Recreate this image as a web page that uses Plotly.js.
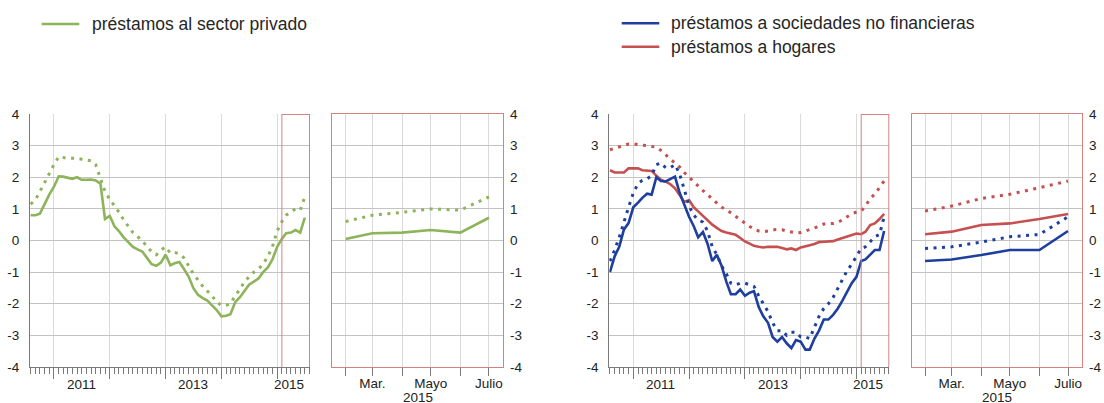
<!DOCTYPE html>
<html>
<head>
<meta charset="utf-8">
<script src="https://cdn.plot.ly/plotly-3.0.1.min.js"></script>
<style>html,body{margin:0;padding:0;background:#fff;}#chart{width:1104px;height:403px;}</style>
</head>
<body>
<div id="chart"></div>
<script>
// ---------- DATA ----------
const months = [
  '2010-08','2010-09','2010-10','2010-11','2010-12',
  '2011-01','2011-02','2011-03','2011-04','2011-05','2011-06','2011-07','2011-08','2011-09','2011-10','2011-11','2011-12',
  '2012-01','2012-02','2012-03','2012-04','2012-05','2012-06','2012-07','2012-08','2012-09','2012-10','2012-11','2012-12',
  '2013-01','2013-02','2013-03','2013-04','2013-05','2013-06','2013-07','2013-08','2013-09','2013-10','2013-11','2013-12',
  '2014-01','2014-02','2014-03','2014-04','2014-05','2014-06','2014-07','2014-08','2014-09','2014-10','2014-11','2014-12',
  '2015-01','2015-02','2015-03','2015-04','2015-05','2015-06','2015-07'
];

// préstamos al sector privado (solid) and dotted companion series
const privado = [
  0.8, 0.8, 0.85, 1.18, 1.45,
  1.7, 2.03, 2.02, 1.98, 1.95, 2.0, 1.92, 1.92, 1.93, 1.9, 1.8, 0.68,
  0.78, 0.45, 0.3, 0.1, -0.05, -0.2, -0.28, -0.35, -0.55, -0.75, -0.8, -0.7,
  -0.45, -0.78, -0.72, -0.68, -0.9, -1.15, -1.5, -1.72, -1.82, -1.9, -2.05, -2.2,
  -2.4, -2.38, -2.33, -1.95, -1.8, -1.6, -1.4, -1.3, -1.2, -1.0, -0.85, -0.6,
  -0.2, 0.05, 0.23, 0.25, 0.33, 0.25, 0.72
];
const privadoDot = [
  1.15, 1.28, 1.55, 1.85, 2.15,
  2.4, 2.65, 2.62, 2.6, 2.6, 2.6, 2.57, 2.55, 2.52, 2.4, 2.0, 1.55,
  1.3, 1.1, 0.9, 0.65, 0.45, 0.25, 0.12, 0.0, -0.2, -0.35, -0.45, -0.3,
  -0.2, -0.4, -0.38, -0.42, -0.55, -0.8, -1.05, -1.25, -1.45, -1.6, -1.75, -1.95,
  -2.05, -2.05, -2.0, -1.75, -1.55, -1.3, -1.15, -1.0, -0.9, -0.75, -0.5, -0.2,
  0.3, 0.6, 0.8, 0.89, 1.0, 0.96, 1.38
];

// préstamos a sociedades no financieras
const sociedades = [
  -1.0, -0.5, -0.2, 0.35, 0.55,
  1.05, 1.2, 1.35, 1.48, 1.45, 2.0, 1.88, 1.87, 1.95, 2.02, 1.5, 1.1,
  0.75, 0.45, 0.1, 0.27, -0.1, -0.65, -0.45, -0.8, -1.3, -1.7, -1.7, -1.55,
  -1.75, -1.65, -1.6, -2.1, -2.4, -2.6, -3.05, -3.2, -3.05, -3.25, -3.4, -3.15,
  -3.2, -3.45, -3.45, -3.1, -2.85, -2.5, -2.5, -2.35, -2.15, -1.9, -1.6, -1.35,
  -1.15, -0.65, -0.6, -0.46, -0.3, -0.3, 0.3
];
const sociedadesDot = [
  -0.65, -0.3, 0.1, 0.6, 1.05,
  1.5, 1.8, 1.9, 1.95, 2.05, 2.4, 2.45, 2.3, 2.3, 2.4, 2.1, 1.6,
  1.1, 0.8, 0.65, 0.58, 0.3, -0.2, -0.45, -0.8, -1.05, -1.35, -1.4, -1.35,
  -1.35, -1.4, -1.45, -1.75, -2.0, -2.25, -2.6, -2.85, -2.85, -3.0, -2.9, -2.9,
  -3.05, -3.05, -3.1, -2.75, -2.4, -2.15, -2.0, -1.8, -1.5, -1.25, -0.95, -0.75,
  -0.5, -0.25, -0.2, -0.05, 0.12, 0.19, 0.75
];

// préstamos a hogares
const hogares = [
  2.22, 2.15, 2.15, 2.15, 2.28,
  2.28, 2.28, 2.22, 2.2, 2.2, 2.05, 1.92, 1.86, 1.78, 1.65, 1.45, 1.22,
  1.28, 1.05, 0.92, 0.78, 0.63, 0.5, 0.4, 0.3, 0.25, 0.22, 0.18, 0.08,
  -0.03, -0.1, -0.17, -0.2, -0.22, -0.2, -0.19, -0.2, -0.24, -0.28, -0.25, -0.3,
  -0.22, -0.17, -0.15, -0.11, -0.05, -0.04, -0.04, -0.02, 0.03, 0.08, 0.13, 0.18,
  0.22, 0.2, 0.28, 0.49, 0.54, 0.68, 0.84
];
const hogaresDot = [
  2.87, 2.92, 2.96, 3.0, 3.05,
  3.06, 3.03, 3.01, 3.0, 2.98, 2.95, 2.85, 2.7, 2.57, 2.45, 2.32, 2.15,
  2.0, 1.85, 1.72, 1.58, 1.45, 1.32, 1.17, 1.05, 0.98, 0.88, 0.78, 0.68,
  0.55, 0.44, 0.36, 0.3, 0.28, 0.3, 0.34, 0.35, 0.34, 0.3, 0.27, 0.24,
  0.25, 0.3, 0.34, 0.39, 0.45, 0.52, 0.53, 0.54, 0.58, 0.65, 0.75, 0.84,
  0.9, 0.93, 1.09, 1.33, 1.46, 1.67, 1.88
];

const legendLeft = ['préstamos al sector privado'];
const legendRight = ['préstamos a sociedades no financieras', 'préstamos a hogares'];

const yTickVals = [-4, -3, -2, -1, 0, 1, 2, 3, 4];
const yTickText = ['-4', '-3', '-2', '-1', '0', '1', '2', '3', '4'];
const yearLabels = ['2011', '2013', '2015'];
const yearLabelDates = ['2011-07-01', '2013-07-01', '2015-03-20'];
const zoomTickLabels = ['', 'Mar.', '', 'Mayo', '', 'Julio'];
const zoomYearLabel = '2015';
const zoomStart = '2015-02';

// ---------- STYLE ----------
const W = 1104, H = 403;
const FONT = '"Liberation Sans", Arial, Helvetica, sans-serif';
const TXT = '#222';
const GREEN = '#8db45a', BLUE = '#1f3f9f', RED = '#c5504f';
const FRAME_RED = 'rgb(214,128,128)';
const AXIS = '#7a7a7a', GRIDY = 'rgb(195,195,195)', GRIDX = 'rgb(218,218,218)';
const DOT = '3px,5.5px';
const yDom = [1 - 367 / H, 1 - 114 / H];
const mainRange = ['2010-07-28', '2015-08-04'];
const zoomRange = ['2015-01-18', '2015-07-16'];

const zIdx = months.indexOf(zoomStart);
const zMonths = months.slice(zIdx);
const tail = a => a.slice(zIdx);

function line(x, y, color, dotted, xa, ya) {
  return {
    type: 'scatter', mode: 'lines', x: x, y: y, xaxis: xa, yaxis: ya,
    hoverinfo: 'skip', showlegend: false,
    line: {color: color, width: dotted ? 3 : 2.6, dash: dotted ? DOT : 'solid'}
  };
}

const traces = [
  line(months, privadoDot, GREEN, true, 'x', 'y'),
  line(months, privado, GREEN, false, 'x', 'y'),
  line(zMonths, tail(privadoDot), GREEN, true, 'x2', 'y2'),
  line(zMonths, tail(privado), GREEN, false, 'x2', 'y2'),

  line(months, hogaresDot, RED, true, 'x3', 'y3'),
  line(months, hogares, RED, false, 'x3', 'y3'),
  line(months, sociedadesDot, BLUE, true, 'x3', 'y3'),
  line(months, sociedades, BLUE, false, 'x3', 'y3'),
  line(zMonths, tail(hogaresDot), RED, true, 'x4', 'y4'),
  line(zMonths, tail(hogares), RED, false, 'x4', 'y4'),
  line(zMonths, tail(sociedadesDot), BLUE, true, 'x4', 'y4'),
  line(zMonths, tail(sociedades), BLUE, false, 'x4', 'y4')
];

function mainX(dom, yref) {
  return {
    domain: dom, anchor: yref, type: 'date', range: mainRange,
    tickmode: 'linear', tick0: '2011-01-01', dtick: 'M12',
    showticklabels: false, ticks: 'outside', ticklen: 11, tickcolor: AXIS, tickwidth: 1,
    showgrid: true, gridcolor: GRIDX, gridwidth: 1,
    showline: true, linecolor: AXIS, linewidth: 1, zeroline: false, fixedrange: true,
    minor: {tick0: '2011-01-01', dtick: 'M1', ticks: 'outside', ticklen: 6, tickcolor: AXIS, tickwidth: 1, showgrid: false}
  };
}
function yBase(xref) {
  return {
    domain: yDom, anchor: xref, range: [-4, 4], tickmode: 'array', tickvals: yTickVals, ticktext: yTickText,
    showgrid: true, gridcolor: GRIDY, gridwidth: 1, zeroline: false,
    showline: true, linewidth: 1, ticks: '',
    tickfont: {family: FONT, size: 13.5, color: TXT}, fixedrange: true
  };
}
function mainY(xref) {
  return Object.assign(yBase(xref), {linecolor: AXIS, ticklabelstandoff: 7});
}
function zoomY(xref) {
  return Object.assign(yBase(xref), {side: 'right', linecolor: FRAME_RED, mirror: true, ticklabelstandoff: 3});
}
function zoomX(dom, yref) {
  return {
    domain: dom, anchor: yref, type: 'date', range: zoomRange,
    tickmode: 'array', tickvals: zMonths, ticktext: zoomTickLabels,
    ticks: 'outside', ticklen: 8, tickcolor: AXIS, tickwidth: 1, ticklabelstandoff: -4,
    showgrid: true, gridcolor: GRIDX, gridwidth: 1,
    showline: true, linecolor: FRAME_RED, linewidth: 1, mirror: true, zeroline: false,
    tickfont: {family: FONT, size: 13.5, color: TXT}, fixedrange: true
  };
}

const domA = [30 / W, 310 / W], domB = [332.3 / W, 503.3 / W];
const domC = [609.3 / W, 889.3 / W], domD = [911.7 / W, 1082.3 / W];

function redBox(xa, ya) {
  const base = {type: 'line', xref: xa, yref: ya, layer: 'above'};
  return [
    Object.assign({}, base, {x0: zoomStart, x1: zoomStart, y0: -4, y1: 4, line: {color: FRAME_RED, width: 1}}),
    Object.assign({}, base, {x0: zoomStart, x1: mainRange[1], y0: 4, y1: 4, line: {color: FRAME_RED, width: 2}}),
    Object.assign({}, base, {x0: mainRange[1], x1: mainRange[1], y0: -4, y1: 4, line: {color: FRAME_RED, width: 2}})
  ];
}

function legendLine(x0, x1, ypx, color) {
  return {type: 'line', xref: 'paper', yref: 'paper', x0: x0 / W, x1: x1 / W, y0: 1 - ypx / H, y1: 1 - ypx / H,
          line: {color: color, width: 2.6}};
}

const shapes = [].concat(
  redBox('x', 'y'), redBox('x3', 'y3'),
  [legendLine(41.7, 79.3, 24, GREEN), legendLine(621.7, 659.3, 23.3, BLUE), legendLine(621.7, 659.3, 46.7, RED)]
);

const annotations = [];
function legendText(text, xpx, ypx) {
  annotations.push({xref: 'paper', yref: 'paper', x: xpx / W, y: 1 - ypx / H, xanchor: 'left', yanchor: 'middle',
    text: text, showarrow: false, font: {family: FONT, size: 17.5, color: '#262626'}});
}
legendText(legendLeft[0], 90, 24);
legendText(legendRight[0], 668.5, 23.3);
legendText(legendRight[1], 668.5, 46.7);

['x', 'x3'].forEach(xa => {
  yearLabels.forEach((t, i) => {
    annotations.push({xref: xa, yref: 'paper', x: yearLabelDates[i], y: 1 - 384 / H, xanchor: 'center', yanchor: 'middle',
      text: t, showarrow: false, font: {family: FONT, size: 13.5, color: TXT}});
  });
});
['x2', 'x4'].forEach(xa => {
  annotations.push({xref: xa + ' domain', yref: 'paper', x: 0.5, y: 1 - 397.5 / H, xanchor: 'center', yanchor: 'middle',
    text: zoomYearLabel, showarrow: false, font: {family: FONT, size: 13.5, color: TXT}});
});

const layout = {
  width: W, height: H, margin: {l: 0, r: 0, t: 0, b: 0},
  paper_bgcolor: '#ffffff', plot_bgcolor: '#ffffff', showlegend: false,
  font: {family: FONT, size: 13, color: TXT},
  xaxis: mainX(domA, 'y'), yaxis: mainY('x'),
  xaxis2: zoomX(domB, 'y2'), yaxis2: zoomY('x2'),
  xaxis3: mainX(domC, 'y3'), yaxis3: mainY('x3'),
  xaxis4: zoomX(domD, 'y4'), yaxis4: zoomY('x4'),
  shapes: shapes, annotations: annotations
};

Plotly.newPlot('chart', traces, layout, {staticPlot: true, displayModeBar: false});
</script>
</body>
</html>
